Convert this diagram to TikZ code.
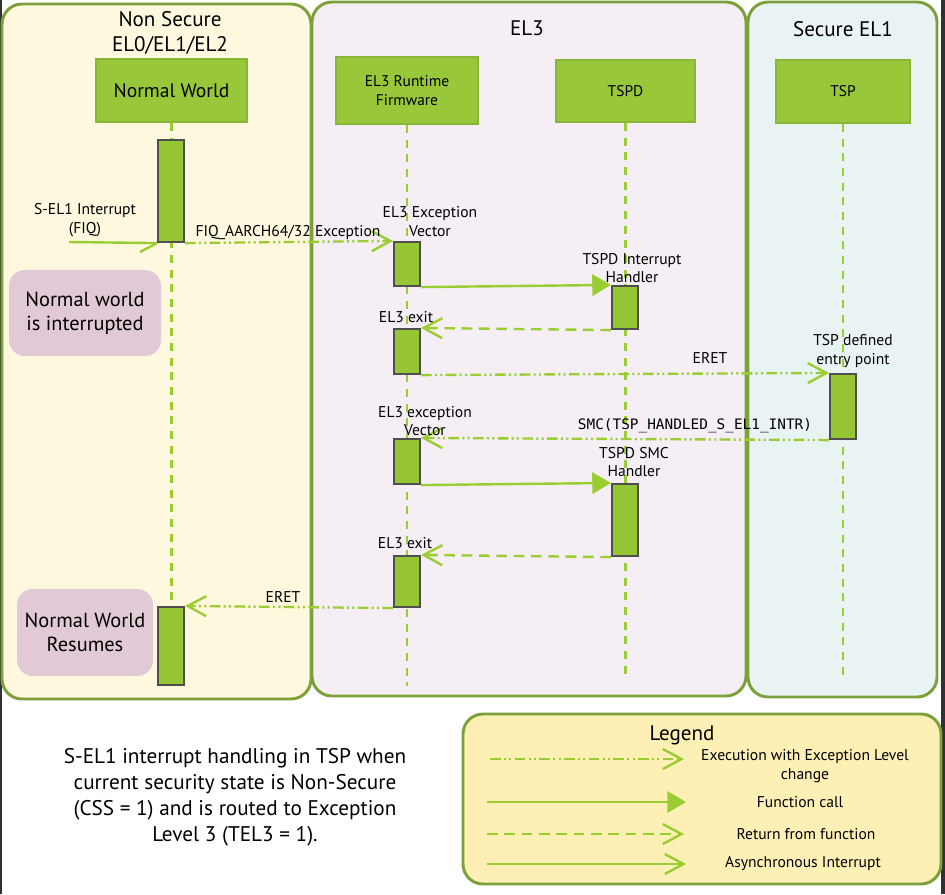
\documentclass[tikz,border=0pt]{standalone}
\usepackage{fontspec}
\setmainfont{PT Sans}
\setmonofont{DejaVu Sans Mono}
\usetikzlibrary{arrows.meta}
\newdimen\pxu \pxu=0.75pt
\definecolor{pborder}{HTML}{7CA03A}
\definecolor{nsfill}{HTML}{FDF8DE}
\definecolor{elfill}{HTML}{F5EFF5}
\definecolor{sefill}{HTML}{EAF3F4}
\definecolor{lgfill}{HTML}{FEEFB5}
\definecolor{headfill}{HTML}{99C73A}
\definecolor{headdraw}{HTML}{88B635}
\definecolor{actfill}{HTML}{96C634}
\definecolor{actdraw}{HTML}{4F4F4F}
\definecolor{lgreen}{HTML}{9ACD32}
\definecolor{notepink}{HTML}{E2C9D6}
\definecolor{edge}{HTML}{2E3236}
\tikzset{
  panel/.style={draw=pborder, line width=2.2pt, rounded corners=15pt},
  headbox/.style={draw=headdraw, fill=headfill, line width=1.5pt, inner sep=0pt, align=center, font=\fontsize{11.6}{14}\selectfont},
  actbox/.style={draw=actdraw, fill=actfill, line width=1.6pt, inner sep=0pt, minimum width=26\pxu},
  notebox/.style={fill=notepink, rounded corners=12pt, inner sep=0pt, align=center, font=\fontsize{15.3}{18}\selectfont},
  lifeline/.style={draw=lgreen, line width=1.9pt, dash pattern=on 6pt off 5pt},
  lbl/.style={inner sep=0pt, align=center, font=\fontsize{11.7}{13.8}\selectfont},
  ttl/.style={inner sep=0pt, align=center, font=\fontsize{15.8}{18.5}\selectfont},
  callarrow/.style={draw=lgreen, line width=1.8pt, -{Triangle[length=14pt,width=16pt]}},
  retarrow/.style={draw=lgreen, line width=1.8pt, dash pattern=on 8pt off 5pt, -{Straight Barb[length=14pt,width=15pt]}},
  execarrow/.style={draw=lgreen, line width=1.8pt, dash pattern=on 8pt off 2.5pt on 1.5pt off 2.5pt on 1.5pt off 2.5pt, -{Straight Barb[length=14pt,width=15pt]}},
  asyncarrow/.style={draw=lgreen, line width=1.8pt, -{Straight Barb[length=14pt,width=15pt]}},
  asyncline/.style={draw=lgreen, line width=1.8pt}
}
\begin{document}
\begin{tikzpicture}[x=0.75pt, y=-0.75pt]
\useasboundingbox (0,0) rectangle (945,894);
\fill[white] (0,0) rectangle (945,894);
% edges of the screenshot
\fill[edge] (0,0) rectangle (1.5,894);
\fill[edge] (941,0) rectangle (945,894);

% panels
\draw[panel, fill=nsfill] (2,4) rectangle (311,699);
\draw[panel, fill=elfill] (312,2) rectangle (746,696);
\draw[panel, fill=sefill] (748,2) rectangle (937,697);
\draw[panel, fill=lgfill] (463,714) rectangle (941,884);

% panel titles
\node[ttl] (tns) at (170,33) {Non Secure\\EL0/EL1/EL2};
\node[ttl] (tel3) at (527,28) {EL3};
\node[ttl] (tsel1) at (843,29) {Secure EL1};

% head boxes
\node[headbox, minimum width=151\pxu, minimum height=63\pxu, font=\fontsize{14.7}{17}\selectfont] (nw) at (171.5,90.5) {Normal World};
\node[headbox, minimum width=142\pxu, minimum height=67\pxu] (el3) at (407,90.5) {EL3 Runtime\\Firmware};
\node[headbox, minimum width=139\pxu, minimum height=62\pxu] (tspd) at (625.5,91) {TSPD};
\node[headbox, minimum width=134\pxu, minimum height=63\pxu] (tsp) at (843,91.5) {TSP};

% lifeline ends
\coordinate (nwend) at (171.5,686);
\coordinate (el3end) at (407,686);
\coordinate (tspdend) at (625.5,680);
\coordinate (tspend) at (843,680);
\draw[lifeline] (nw.south) -- (nwend);
\draw[lifeline] (el3.south) -- (el3end);
\draw[lifeline] (tspd.south) -- (tspdend);
\draw[lifeline] (tsp.south) -- (tspend);

% notes
\node[notebox, minimum width=152\pxu, minimum height=86\pxu] (note1) at (85,313) {Normal world\\is interrupted};
\node[notebox, minimum width=136\pxu, minimum height=87\pxu] (note2) at (85,632.5) {Normal World\\Resumes};

% activation boxes
\node[actbox, minimum height=102\pxu] (na1) at (171,191) {};
\node[actbox, minimum height=78\pxu] (na2) at (171,646) {};
\node[actbox, minimum height=44\pxu] (ea1) at (407,264) {};
\node[actbox, minimum height=45\pxu] (ea2) at (407,351.5) {};
\node[actbox, minimum height=45\pxu] (ea3) at (407,461.5) {};
\node[actbox, minimum height=51\pxu] (ea4) at (407,581.5) {};
\node[actbox, minimum height=43\pxu] (ta1) at (625,307.5) {};
\node[actbox, minimum height=72\pxu] (ta2) at (625,520) {};
\node[actbox, minimum height=65\pxu] (sp1) at (843,406.5) {};

% asynchronous interrupt
\coordinate (irqsrc) at (69,242);
\draw[asyncline] (irqsrc) -- (na1.south west);
\draw[asyncline] (na1.south west) -- ++(-17,9);
\node[lbl] (lirq) at (85,220) {S-EL1 Interrupt\\(FIQ)};

% messages
\draw[execarrow] (na1.south east) -- (ea1.north west);
\node[lbl] (lfiq) at (288,233) {FIQ\_AARCH64/32 Exception};
\node[lbl] (lev1) at (430,221.5) {EL3 Exception\\Vector};

\draw[callarrow] (ea1.south east) -- (ta1.north west);
\node[lbl] (lih) at (632,268) {TSPD Interrupt\\Handler};

\draw[retarrow] (ta1.south west) -- (ea2.north east);
\node[lbl] (lx1) at (406,317) {EL3 exit};

\draw[execarrow] (ea2.south east) -- (sp1.north west);
\node[lbl] (leret1) at (710,358) {ERET};
\node[lbl] (lentry) at (853,351) {TSP defined\\entry point};

\draw[execarrow] (sp1.south west) -- (ea3.north east);
\node[lbl, font=\ttfamily\fontsize{10.8}{13}\selectfont] (lsmc) at (695,426) {SMC(TSP\_HANDLED\_S\_EL1\_INTR)};
\node[lbl] (lev2) at (425,421) {EL3 exception\\Vector};

\draw[callarrow] (ea3.south east) -- (ta2.north west);
\node[lbl] (lsh) at (634,462) {TSPD SMC\\Handler};

\draw[retarrow] (ta2.south west) -- (ea4.north east);
\node[lbl] (lx2) at (405,543) {EL3 exit};

\draw[execarrow] (ea4.south west) -- (na2.north east);
\node[lbl] (leret2) at (283,597) {ERET};

% caption
\node[inner sep=0pt, align=center, font=\fontsize{15.9}{19.5}\selectfont] (cap) at (235,797) {S-EL1 interrupt handling in TSP when\\current security state is Non-Secure\\(CSS = 1) and is routed to Exception\\Level 3 (TEL3 = 1).};

% legend
\node[ttl] (lgt) at (682,735) {Legend};
\coordinate (lg1a) at (490,759); \coordinate (lg1b) at (684,759);
\coordinate (lg2a) at (487,802); \coordinate (lg2b) at (686,802);
\coordinate (lg3a) at (487,834); \coordinate (lg3b) at (684,834);
\coordinate (lg4a) at (487,864); \coordinate (lg4b) at (686,864);
\draw[execarrow] (lg1a) -- (lg1b);
\draw[callarrow] (lg2a) -- (lg2b);
\draw[retarrow] (lg3a) -- (lg3b);
\draw[asyncarrow] (lg4a) -- (lg4b);
\node[lbl] (lgx1) at (805,766) {Execution with Exception Level\\change};
\node[lbl] (lgx2) at (800,802) {Function call};
\node[lbl] (lgx3) at (806,834) {Return from function};
\node[lbl] (lgx4) at (803,864) {Asynchronous Interrupt};
\end{tikzpicture}
\end{document}
